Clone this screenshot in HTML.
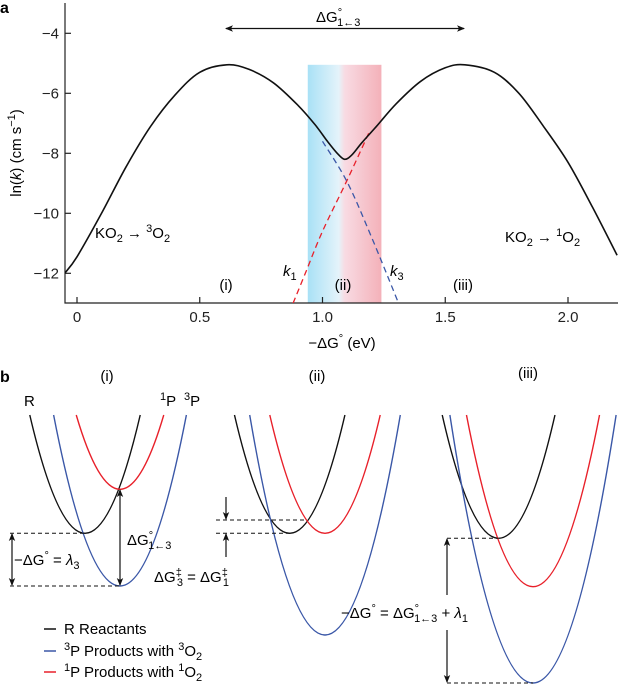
<!DOCTYPE html>
<html><head><meta charset="utf-8"><style>
html,body{margin:0;padding:0;background:#fff;}
svg{display:block;font-family:"Liberation Sans",Arial,sans-serif;}
</style></head><body>
<svg id="fig" width="618" height="685" viewBox="0 0 618 685" xmlns="http://www.w3.org/2000/svg">
<defs>
<linearGradient id="bandGrad" x1="0" x2="1" y1="0" y2="0">
<stop offset="0" stop-color="#a9e1f6"/><stop offset="0.42" stop-color="#e4f3fa"/><stop offset="0.5" stop-color="#f8dbe3"/><stop offset="1" stop-color="#f4b1b9"/>
</linearGradient>
<marker id="ah" markerWidth="8" markerHeight="8" refX="7" refY="4" orient="auto-start-reverse" markerUnits="userSpaceOnUse"><path d="M0,0.8 L8,4 L0,7.2 L2,4 Z" fill="#111"/></marker>
</defs>
<text x="0" y="13" font-size="16" font-weight="bold">a</text>
<g id="panelA"></g>
<text x="0" y="382" font-size="16" font-weight="bold">b</text>
<g id="panelB"></g>
</svg>
<script>
// ---- Panel a data ----
const xTicks = [0, 0.5, 1.0, 1.5, 2.0];
const xTickLabels = ["0", "0.5", "1.0", "1.5", "2.0"];
const yTicks = [-4, -6, -8, -10, -12];
const yTickLabels = ["\u22124", "\u22126", "\u22128", "\u221210", "\u221212"];
const totalX = [-0.05, 0, 0.1, 0.2, 0.3, 0.4, 0.5, 0.61, 0.7, 0.8, 0.9, 0.97, 1.02, 1.06, 1.09, 1.12, 1.16, 1.22, 1.3, 1.4, 1.5, 1.58, 1.7, 1.8, 1.9, 2.0, 2.1, 2.2];
const totalY = [-12.0, -11.45, -10.0, -8.45, -7.1, -6.05, -5.3, -5.05, -5.2, -5.65, -6.4, -7.05, -7.6, -8.0, -8.2, -8.05, -7.65, -7.1, -6.35, -5.6, -5.15, -5.05, -5.3, -6.0, -7.1, -8.3, -9.8, -11.4];
const k3X = [1.0, 1.1, 1.2, 1.31];
const k3Y = [-7.6, -8.95, -10.8, -13.0];
const k1X = [0.88, 0.93, 1.0, 1.1, 1.19];
const k1Y = [-13.0, -12.0, -10.6, -8.9, -7.3];
const bandRange = [0.94, 1.24];
const bandTop = -5.05;

const NS = "http://www.w3.org/2000/svg";
function mk(tag, attrs, parent, txt){const e=document.createElementNS(NS,tag);for(const k in attrs)e.setAttribute(k,attrs[k]);if(txt!==undefined)e.textContent=txt;parent.appendChild(e);return e;}
const xS = v => 77 + v*245.5;
const yS = v => 33.3 + (-4 - v)*30;
function smoothPath(xs, ys){
  const p = xs.map((x,i)=>[xS(x), yS(ys[i])]);
  let d = "M"+p[0][0].toFixed(2)+","+p[0][1].toFixed(2);
  for(let i=0;i<p.length-1;i++){
    const p0=p[Math.max(0,i-1)],p1=p[i],p2=p[i+1],p3=p[Math.min(p.length-1,i+2)];
    const c1=[p1[0]+(p2[0]-p0[0])/6,p1[1]+(p2[1]-p0[1])/6];
    const c2=[p2[0]-(p3[0]-p1[0])/6,p2[1]-(p3[1]-p1[1])/6];
    d+=" C"+c1.map(v=>v.toFixed(2)).join(",")+" "+c2.map(v=>v.toFixed(2)).join(",")+" "+p2[0].toFixed(2)+","+p2[1].toFixed(2);
  }
  return d;
}
const A = document.getElementById("panelA");
const clipDef = mk("clipPath",{id:"plotClip"},document.querySelector("defs"));
mk("rect",{x:65,y:0,width:553,height:303},clipDef);

const band = mk("rect",{x:xS(bandRange[0]),y:yS(bandTop),width:xS(bandRange[1])-xS(bandRange[0]),height:303-yS(bandTop),fill:"url(#bandGrad)"},A);



const axes = mk("path",{d:"M65,3 V303 H618",fill:"none",stroke:"#222","stroke-width":1.2},A);


xTicks.forEach((t,i)=>{
  const tk = mk("line",{x1:xS(t),x2:xS(t),y1:303,y2:297,stroke:"#222","stroke-width":1.2},A);
  
  
  const tl = mk("text",{x:xS(t),y:322,"font-size":15,"text-anchor":"middle",fill:"#222"},A,xTickLabels[i]);
  
  
});
yTicks.forEach((t,i)=>{
  const tk = mk("line",{x1:65,x2:71,y1:yS(t),y2:yS(t),stroke:"#222","stroke-width":1.2},A);
  
  
  const tl = mk("text",{x:59,y:yS(t)+5,"font-size":15,"text-anchor":"end",fill:"#222"},A,yTickLabels[i]);
  
  
});
const g = mk("g",{"clip-path":"url(#plotClip)"},A);
const k1 = mk("path",{d:smoothPath(k1X,k1Y),fill:"none",stroke:"#e8202a","stroke-width":1.3,"stroke-dasharray":"6,4"},g);


const k3 = mk("path",{d:smoothPath(k3X,k3Y),fill:"none",stroke:"#3a57a7","stroke-width":1.3,"stroke-dasharray":"6,4"},g);


const tot = mk("path",{d:smoothPath(totalX,totalY),fill:"none",stroke:"#111","stroke-width":1.6},g);


</script>
<script>
(function(){
const A=document.getElementById("panelA");
A.insertAdjacentHTML("beforeend",`
<line x1="226" y1="28.5" x2="464" y2="28.5" stroke="#111" stroke-width="1.3" marker-start="url(#ah)" marker-end="url(#ah)"/>
<text x="316" y="22" font-size="15">ΔG<tspan font-size="11" dy="-6">°</tspan><tspan font-size="11" dx="-5" dy="10">1←3</tspan></text>
<text x="95" y="238" font-size="15">KO<tspan font-size="11" dy="4">2</tspan><tspan dy="-4"> → </tspan><tspan font-size="11" dy="-6">3</tspan><tspan dy="6">O</tspan><tspan font-size="11" dy="4">2</tspan></text>
<text x="505" y="242" font-size="15">KO<tspan font-size="11" dy="4">2</tspan><tspan dy="-4"> → </tspan><tspan font-size="11" dy="-6">1</tspan><tspan dy="6">O</tspan><tspan font-size="11" dy="4">2</tspan></text>
<text x="226" y="290" font-size="15" text-anchor="middle">(i)</text>
<text x="343" y="290" font-size="15" text-anchor="middle">(ii)</text>
<text x="463" y="290" font-size="15" text-anchor="middle">(iii)</text>
<text x="283" y="276" font-size="15" font-style="italic">k<tspan font-size="11" dy="4" font-style="normal">1</tspan></text>
<text x="390" y="276" font-size="15" font-style="italic">k<tspan font-size="11" dy="4" font-style="normal">3</tspan></text>
<text x="342" y="348" font-size="15" text-anchor="middle">−ΔG<tspan font-size="11" dy="-6">°</tspan><tspan dy="6"> (eV)</tspan></text>
<text transform="translate(21,153) rotate(-90)" font-size="15" text-anchor="middle">ln(<tspan font-style="italic">k</tspan>) (cm s<tspan font-size="11" dy="-6">−1</tspan><tspan dy="6">)</tspan></text>
`);
})();
</script>
<script>
// ---- Panel b: parabola vertices (energy diagram) ----
const parabolaPanel = ["i","i","i","ii","ii","ii","iii","iii","iii"];
const parabolaKind = ["R","3P","1P","R","3P","1P","R","3P","1P"];
const vertexX = [85,120,120,289.7,325,325,498.6,533,533];
const vertexY = [533.3,586,489.3,533.3,635,533.3,538.3,683,586.7];
(function(){
const B=document.getElementById("panelB");
const NS="http://www.w3.org/2000/svg";
const colors={"R":"#111","3P":"#3a57a7","1P":"#e8202a"};
const k=0.0388, top=415;
vertexX.forEach((h,i)=>{
  const v=vertexY[i];
  const w=Math.sqrt((v-top)/k);
  const e=document.createElementNS(NS,"path");
  e.setAttribute("d",`M${h-w},${top} Q${h},${2*v-top} ${h+w},${top}`);
  e.setAttribute("fill","none");e.setAttribute("stroke",colors[parabolaKind[i]]);e.setAttribute("stroke-width","1.4");
  
  
  B.appendChild(e);
});
B.insertAdjacentHTML("beforeend",`
<text x="107" y="381" font-size="15" text-anchor="middle">(i)</text>
<text x="317" y="381" font-size="15" text-anchor="middle">(ii)</text>
<text x="528" y="378" font-size="15" text-anchor="middle">(iii)</text>
<text x="24" y="406" font-size="15">R</text>
<text x="160" y="406" font-size="15"><tspan font-size="11" dy="-6">1</tspan><tspan dy="6">P</tspan></text>
<text x="184" y="406" font-size="15"><tspan font-size="11" dy="-6">3</tspan><tspan dy="6">P</tspan></text>
<g stroke="#111" stroke-width="1" stroke-dasharray="4,3" fill="none">
<line x1="10" y1="533.3" x2="85" y2="533.3"/><line x1="10" y1="586" x2="120" y2="586"/>
<line x1="216" y1="520" x2="307" y2="520"/><line x1="216" y1="533.3" x2="290" y2="533.3"/>
<line x1="447" y1="538.3" x2="498" y2="538.3"/><line x1="447" y1="683" x2="533" y2="683"/>
</g>
<g stroke="#111" stroke-width="1.2">
<line x1="12" y1="534" x2="12" y2="585" marker-start="url(#ah)" marker-end="url(#ah)"/>
<line x1="120" y1="490" x2="120" y2="585" marker-start="url(#ah)" marker-end="url(#ah)"/>
<line x1="226" y1="497" x2="226" y2="519" marker-end="url(#ah)"/>
<line x1="226" y1="557" x2="226" y2="534" marker-end="url(#ah)"/>
<line x1="447" y1="595" x2="447" y2="539" marker-end="url(#ah)"/>
<line x1="447" y1="630" x2="447" y2="682" marker-end="url(#ah)"/>
</g>
<text x="14" y="565" font-size="15">−ΔG<tspan font-size="11" dy="-6">°</tspan><tspan dy="6"> = </tspan><tspan font-style="italic">λ</tspan><tspan font-size="11" dy="4">3</tspan></text>
<text x="127" y="545" font-size="15">ΔG<tspan font-size="11" dy="-6">°</tspan><tspan font-size="11" dx="-5" dy="10">1←3</tspan></text>
<text x="154" y="582" font-size="15">ΔG<tspan font-size="11" dy="-6">‡</tspan><tspan font-size="11" dx="-5" dy="10">3</tspan><tspan dy="-4"> = ΔG</tspan><tspan font-size="11" dy="-6">‡</tspan><tspan font-size="11" dx="-5" dy="10">1</tspan></text>
<text x="341" y="618" font-size="15">−ΔG<tspan font-size="11" dy="-6">°</tspan><tspan dy="6"> = ΔG</tspan><tspan font-size="11" dy="-6">°</tspan><tspan font-size="11" dx="-5" dy="10">1←3</tspan><tspan dy="-4"> + </tspan><tspan font-style="italic">λ</tspan><tspan font-size="11" dy="4">1</tspan></text>
<g>
<line x1="44" y1="629" x2="56" y2="629" stroke="#111" stroke-width="1.5"/>
<text x="64" y="634" font-size="15">R Reactants</text>
<line x1="44" y1="651" x2="56" y2="651" stroke="#3a57a7" stroke-width="1.5"/>
<text x="64" y="656" font-size="15"><tspan font-size="11" dy="-6">3</tspan><tspan dy="6">P Products with </tspan><tspan font-size="11" dy="-6">3</tspan><tspan dy="6">O</tspan><tspan font-size="11" dy="4">2</tspan></text>
<line x1="44" y1="672" x2="56" y2="672" stroke="#e8202a" stroke-width="1.5"/>
<text x="64" y="677" font-size="15"><tspan font-size="11" dy="-6">1</tspan><tspan dy="6">P Products with </tspan><tspan font-size="11" dy="-6">1</tspan><tspan dy="6">O</tspan><tspan font-size="11" dy="4">2</tspan></text>
</g>
`);
})();
</script>
</body></html>
